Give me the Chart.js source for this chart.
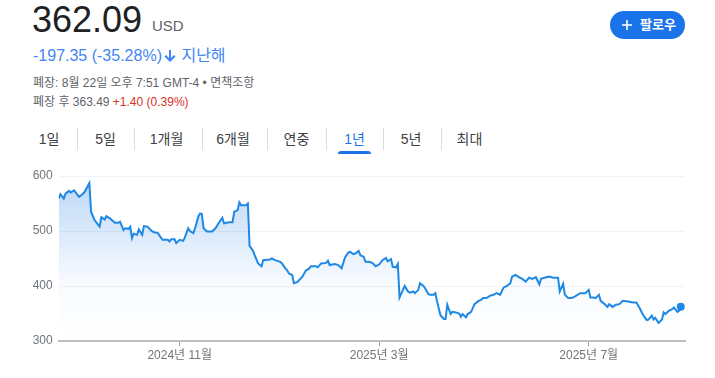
<!DOCTYPE html>
<html lang="ko">
<head>
    <meta charset="UTF-8">
    <title>362.09 USD</title>
    <script src="https://cdn.jsdelivr.net/npm/chart.js"></script>
    <style>
        body {
            margin: 0;
            width: 715px;
            height: 378px;
            overflow: hidden;
            background: #fff;
            position: relative;
            font-family: "Liberation Sans", Arial, "Noto Sans CJK KR", sans-serif;
        }
        .abs { position: absolute; white-space: nowrap; }
        .price { left: 32px; top: 2px; font-size: 36px; line-height: 36px; color: #202124; }
        .cur { left: 152px; top: 17px; font-size: 15px; line-height: 18px; color: #5f6368; }
        .change { left: 33px; top: 46px; font-size: 16px; line-height: 20px; color: #4285f4; }
        .change svg { vertical-align: -2px; margin: 0 1px 0 2px; }
        .meta { left: 33px; font-size: 12px; line-height: 16px; color: #5f6368; }
        .red { color: #d93025; }
        .tab { top: 130px; font-size: 14px; line-height: 18px; color: #3c4043; transform: translateX(-50%); }
        .tab.on { color: #1a73e8; }
        .sep { top: 128px; width: 1px; height: 22px; background: #dadce0; }
        .bar { left: 338px; top: 151px; width: 33px; height: 3px; background: #1a73e8; border-radius: 3px 3px 0 0; }
        .follow { left: 610px; top: 11px; width: 75px; height: 28px; border-radius: 14px; background: #1a73e8; color: #fff; font-size: 13px; font-weight: bold; line-height: 28px; }
        .follow svg { position: absolute; left: 12px; top: 9px; }
        .follow span { position: absolute; left: 30px; top: 0; }
        #chart { position: absolute; left: 0; top: 160px; }
    </style>
</head>
<body>
    <div class="abs price">362.09</div>
    <div class="abs cur">USD</div>
    <div class="abs change">-197.35 (-35.28%)<svg width="12" height="14" viewBox="0 0 12 14"><path d="M6 13 L0.5 7.5 L2 6 L5 9 L5 1 L7 1 L7 9 L10 6 L11.5 7.5 Z" fill="#4285f4"/></svg> 지난해</div>
    <div class="abs meta" style="top:75px">폐장: 8월 22일 오후 7:51 GMT-4 • 면책조항</div>
    <div class="abs meta" style="top:94px">폐장 후 363.49 <span class="red">+1.40 (0.39%)</span></div>

    <div class="abs follow"><svg width="10" height="10" viewBox="0 0 10 10"><path d="M4.2 0h1.6v4.2H10v1.6H5.8V10H4.2V5.8H0V4.2h4.2z" fill="#fff"/></svg><span>팔로우</span></div>

    <div id="tabs"></div>
    <div class="abs bar"></div>

    <canvas id="chart" width="715" height="218"></canvas>

    <script>
        // tabs
        const tabNames = ['1일', '5일', '1개월', '6개월', '연중', '1년', '5년', '최대'];
        const tabCenters = [49, 105.5, 166.5, 233, 296.5, 354.5, 411, 469.5];
        const sepX = [77, 134, 202, 267, 326, 383, 441];

        // price series: days since 2024-08-22, close in USD
        const days = [0, 1, 3, 4, 6, 7, 9, 12, 15, 18, 19, 21, 24, 25, 27, 28, 30, 33, 35, 36,
            38, 39, 41, 42, 43, 44, 46, 47, 49, 50, 52, 55, 57, 58, 60, 61, 64, 65, 66, 68,
            69, 71, 73, 74, 76, 77, 79, 80, 82, 83, 84, 85, 87, 90, 92, 94, 96, 97, 100, 102,
            103, 105, 106, 107, 110, 111, 112, 114, 115, 117, 119, 120, 124, 125, 127, 130, 131, 133, 134, 135,
            137, 138, 140, 143, 145, 147, 148, 151, 152, 154, 157, 158, 159, 162, 164, 166, 168, 170, 171, 173,
            174, 176, 177, 179, 180, 182, 184, 186, 188, 190, 192, 193, 195, 196, 198, 199, 200, 202, 203, 205,
            206, 208, 209, 211, 212, 214, 215, 217, 218, 220, 221, 222, 224, 226, 227, 228, 230, 231, 233, 235,
            236, 237, 239, 240, 242, 244, 246, 248, 249, 251, 253, 255, 257, 259, 261, 263, 265, 266, 268, 270,
            272, 274, 276, 278, 280, 282, 283, 286, 288, 290, 293, 294, 296, 297, 299, 301, 303, 305, 306, 309,
            311, 312, 314, 315, 317, 318, 320, 322, 323, 325, 327, 329, 331, 334, 337, 339, 341, 343, 345, 346,
            348, 349, 350, 352, 354, 355, 356, 358, 360, 361, 363, 364, 365];
        const prices = [559, 567, 559, 568, 573, 570, 574, 562, 570, 587, 535, 520, 508, 525, 521, 527, 523, 515, 515, 517,
            502, 505, 504, 508, 487, 495, 493, 503, 493, 509, 508, 499, 497, 497, 488, 484, 484, 481, 485, 485,
            478, 484, 482, 488, 505, 500, 496, 505, 527, 532, 531, 505, 499, 499, 505, 515, 524, 514, 516, 516,
            535, 538, 552, 547, 547, 550, 473, 464, 456, 441, 436, 447, 448, 450, 447, 444, 441, 432, 429, 423,
            420, 405, 407, 417, 428, 432, 436, 436, 434, 441, 442, 446, 438, 440, 438, 432, 452, 461, 462, 458,
            459, 464, 456, 453, 444, 444, 442, 436, 439, 447, 451, 445, 449, 435, 434, 440, 379, 393, 400, 390,
            388, 390, 387, 393, 405, 400, 396, 385, 384, 384, 387, 372, 347, 340, 340, 366, 349, 353, 352, 350,
            344, 349, 343, 349, 353, 367, 372, 375, 378, 378, 382, 384, 387, 384, 397, 400, 405, 417, 420, 416,
            413, 408, 415, 413, 416, 403, 413, 416, 417, 415, 415, 390, 404, 384, 378, 378, 381, 385, 387, 387,
            393, 379, 379, 378, 384, 373, 368, 362, 367, 362, 366, 367, 373, 372, 370, 370, 359, 347, 338, 339,
            346, 339, 342, 333, 339, 352, 349, 355, 358, 361, 353, 355, 362.09];

        // x axis ticks
        const tickDays = [71, 188, 311];
        const tickLabels = ['2024년 11월', '2025년 3월', '2025년 7월'];

        const tabs = document.getElementById('tabs');
        tabNames.forEach((name, i) => {
            const el = document.createElement('div');
            el.className = 'abs tab' + (name === '1년' ? ' on' : '');
            el.style.left = tabCenters[i] + 'px';
            el.textContent = name;
            tabs.appendChild(el);
        });
        sepX.forEach(x => {
            const el = document.createElement('div');
            el.className = 'abs sep';
            el.style.left = x + 'px';
            tabs.appendChild(el);
        });

        const lineBlue = '#1e88e5';
        const fontFamily = '"Liberation Sans", Arial, "Noto Sans CJK KR", sans-serif';
        const last = days.length - 1;

        new Chart(document.getElementById('chart'), {
            type: 'line',
            data: {
                datasets: [{
                    data: days.map((d, i) => ({ x: d, y: prices[i] })),
                    borderColor: lineBlue,
                    borderWidth: 2,
                    tension: 0,
                    pointRadius: c => c.dataIndex === last ? 4 : 0,
                    pointBackgroundColor: lineBlue,
                    pointBorderWidth: 0,
                    fill: 'start',
                    backgroundColor: c => {
                        const a = c.chart.chartArea;
                        if (!a) return 'transparent';
                        const g = c.chart.ctx.createLinearGradient(0, a.top, 0, a.bottom);
                        g.addColorStop(0, 'rgba(30,120,230,0.30)');
                        g.addColorStop(0.65, 'rgba(30,120,230,0.03)');
                        g.addColorStop(1, 'rgba(30,120,230,0)');
                        return g;
                    }
                }]
            },
            options: {
                responsive: false,
                animation: false,
                plugins: { legend: { display: false }, tooltip: { enabled: false } },
                layout: { padding: { top: 16, right: 30, left: 0, bottom: 0 } },
                scales: {
                    x: {
                        type: 'linear',
                        min: 0,
                        max: 367.5,
                        afterBuildTicks: ax => { ax.ticks = tickDays.map(v => ({ value: v })); },
                        afterFit: s => { s.height = 37; },
                        grid: { drawOnChartArea: false, tickLength: 5, tickColor: '#9aa0a6' },
                        border: { color: '#bdc1c6', width: 2 },
                        ticks: {
                            callback: v => tickLabels[tickDays.indexOf(v)],
                            color: '#70757a',
                            font: { size: 12, family: fontFamily },
                            padding: 2,
                            maxRotation: 0,
                            autoSkip: false
                        }
                    },
                    y: {
                        min: 300,
                        max: 600,
                        afterFit: s => { s.width = 58.7; },
                        grid: { color: '#f1f3f4', drawTicks: false },
                        border: { display: false },
                        ticks: {
                            stepSize: 100,
                            color: '#70757a',
                            font: { size: 12, family: fontFamily },
                            padding: 6
                        }
                    }
                }
            }
        });
    </script>
</body>
</html>
